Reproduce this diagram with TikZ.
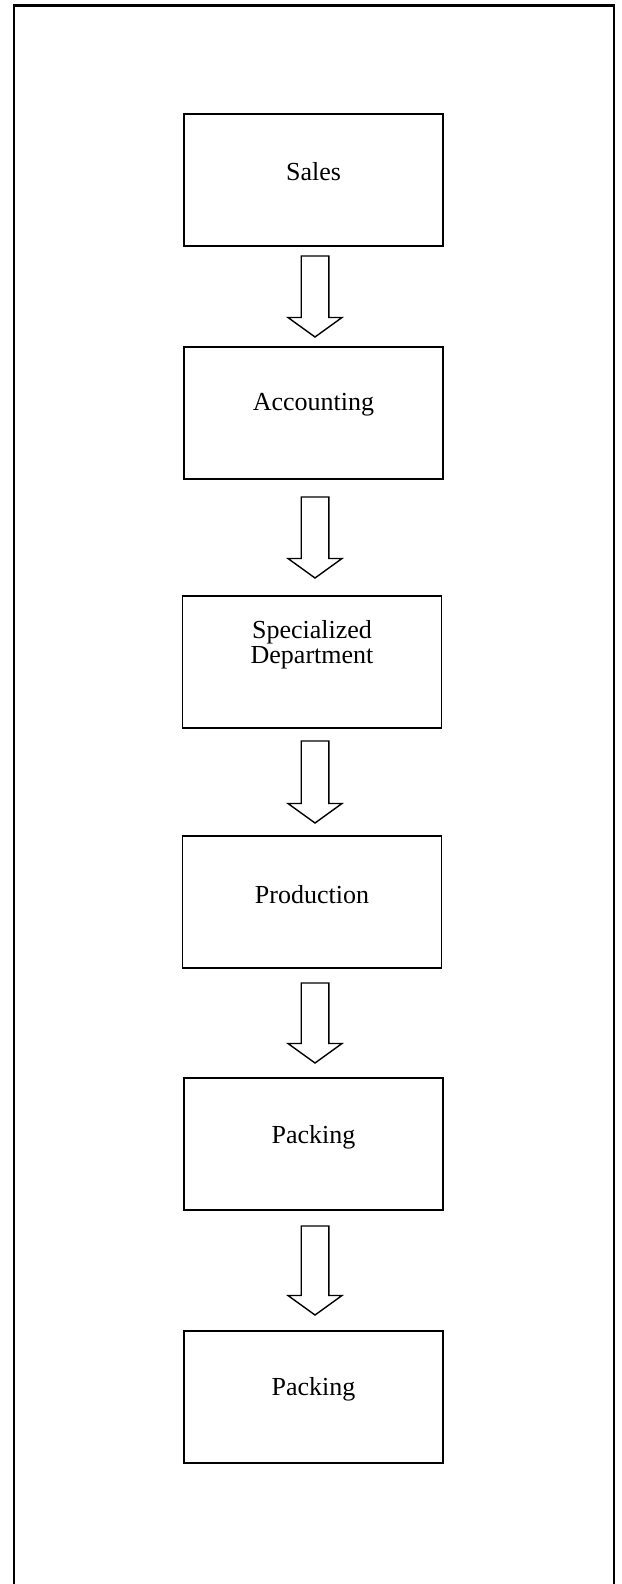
\documentclass[tikz,border=0pt]{standalone}
\usepackage{fontspec}
\setmainfont{Liberation Serif}
\usetikzlibrary{calc}
\tikzset{
  stagebox/.style={draw, line width=1.6pt, minimum width=259pt, minimum height=132pt, inner sep=0pt},
  stagetext/.style={font=\fontsize{26}{25}\selectfont, align=center, inner sep=0pt},
  blockarr/.style={draw, line width=1.4pt, fill=white, line join=miter},
  frameline/.style={line width=2.2pt}
}
\newcommand\barrow[4]{% name, from, to, length
  \coordinate (#1m) at ($(#2.south)!0.5!(#3.north)$);
  \coordinate (#1c) at (#1m -| axis);
  \draw[blockarr] ($(#1c)+(-13.8,-#4/2)$) -- ($(#1c)+(13.8,-#4/2)$) -- ($(#1c)+(13.8,#4/2-19.5)$)
    -- ($(#1c)+(27,#4/2-19.5)$) -- ($(#1c)+(0,#4/2)$) -- ($(#1c)+(-27,#4/2-19.5)$)
    -- ($(#1c)+(-13.8,#4/2-19.5)$) -- cycle;
}
\begin{document}
\begin{tikzpicture}[x=1pt,y=-1pt]
\useasboundingbox (0,0) rectangle (621,1584);
\fill[white] (0,0) rectangle (621,1584);
\draw[frameline] (14,1590) -- (14,5.5) -- (613.7,5.5) -- (613.7,1590);
\coordinate (axis) at (315,0);

\node[stagebox] (b1) at (313.5,180) {};
\node[stagebox] (b2) at (313.5,413) {};
\node[stagebox] (b3) at (312,662) {};
\node[stagebox] (b4) at (312,902) {};
\node[stagebox] (b5) at (313.5,1144) {};
\node[stagebox] (b6) at (313.5,1397) {};

\node[stagetext] (t1) at ($(b1.center)+(0,-8)$) {Sales};
\node[stagetext] (t2) at ($(b2.center)+(0,-8)$) {Accounting};
\node[stagetext] (t3) at ($(b3.center)+(0,-17)$) {Specialized\\Department};
\node[stagetext] (t4) at ($(b4.center)+(0,-7)$) {Production};
\node[stagetext] (t5) at ($(b5.center)+(0,-7)$) {Packing};
\node[stagetext] (t6) at ($(b6.center)+(0,-8)$) {Packing};

\barrow{a1}{b1}{b2}{81}
\barrow{a2}{b2}{b3}{81}
\barrow{a3}{b3}{b4}{82}
\barrow{a4}{b4}{b5}{80}
\barrow{a5}{b5}{b6}{89}
\end{tikzpicture}
\end{document}
